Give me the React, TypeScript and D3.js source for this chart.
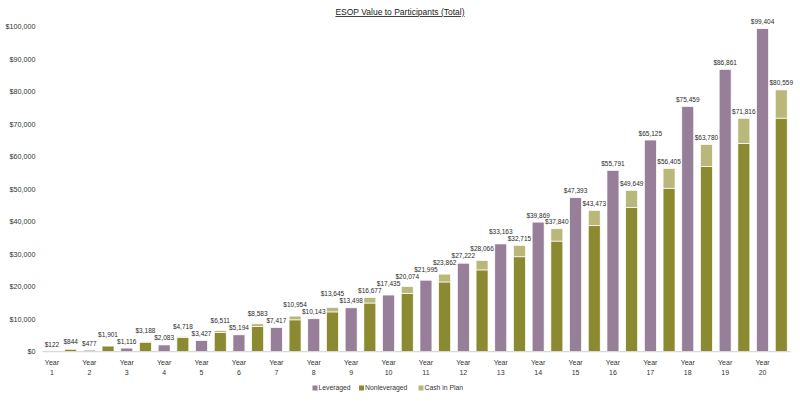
import React from 'react';
import * as d3 from 'd3';

const years = d3.range(1, 21).map(String);
const leveraged = [122, 477, 1116, 2083, 3427, 5194, 7417, 10143, 13498, 17435, 21995, 27222, 33163, 39869, 47393, 55791, 65125, 75459, 86861, 99404];
const nonleveraged = [794, 1771, 2938, 4318, 5911, 7783, 9804, 12245, 14977, 17974, 21462, 25166, 29215, 34040, 38773, 44399, 50305, 56980, 64116, 71859];
const cashInPlan = [50, 130, 250, 400, 600, 800, 1150, 1400, 1700, 2100, 2400, 2900, 3500, 3800, 4700, 5250, 6100, 6800, 7700, 8700];
const yTicks = d3.range(0, 100001, 10000);

const W = 800;
const H = 401;
const FONT = '"Liberation Sans", Arial, sans-serif';
const PURPLE = '#977e99';
const OLIVE = '#8c8a31';
const LIGHT_OLIVE = '#b9b87a';
const LABEL_FS = 6.5;

const legendItems = [
  { label: 'Leveraged', color: PURPLE, cx: 315 },
  { label: 'Nonleveraged', color: OLIVE, cx: 361.5 },
  { label: 'Cash in Plan', color: LIGHT_OLIVE, cx: 421 },
];

const fmt = (v: number) => '$' + d3.format(',')(v);

interface Label { x: number; y: number; text: string; w: number; }

const App: React.FC = () => {
  // two slots per year: leveraged first, then nonleveraged + cash
  const slots = years.flatMap(y => [`${y}-L`, `${y}-N`]);
  const x = d3.scaleBand<string>()
    .domain(slots)
    .range([42.6, 790.6])
    .paddingInner(0.36)
    .paddingOuter(0.18);
  const y = d3.scaleLinear().domain([0, 100000]).range([351.7, 26.7]);
  const bw = x.bandwidth();

  // data labels, nudged up where neighbours collide
  const labels: Label[] = [];
  years.forEach((yr, i) => {
    const total = nonleveraged[i] + cashInPlan[i];
    [[`${yr}-L`, leveraged[i]], [`${yr}-N`, total]].forEach(([slot, v]) => {
      const text = fmt(v as number);
      labels.push({ x: x(slot as string)! + bw / 2, y: y(v as number) - 4.5, text, w: text.length * LABEL_FS * 0.5 });
    });
  });
  for (let i = 1; i < labels.length; i++) {
    const a = labels[i - 1];
    const b = labels[i];
    const overlapX = Math.abs(a.x - b.x) < (a.w + b.w) / 2;
    if (overlapX && Math.abs(a.y - b.y) < LABEL_FS) {
      if (a.y <= b.y) a.y = b.y - LABEL_FS - 0.5;
      else b.y = a.y - LABEL_FS - 0.5;
    }
  }

  return (
    <div style={{ position: 'absolute', left: 0, top: 0 }}>
      <svg width={W} height={H} style={{ display: 'block', background: '#fff' }} fontFamily={FONT}>
        <text x={400} y={15} textAnchor="middle" fontSize={8.5} fill="#222" textDecoration="underline">
          ESOP Value to Participants (Total)
        </text>

        {/* y axis labels */}
        {yTicks.map(t => (
          <text key={t} x={35.5} y={y(t)} dy="0.35em" textAnchor="end" fontSize={7.2} fill="#333">
            {fmt(t)}
          </text>
        ))}

        {/* bars */}
        {years.map((yr, i) => {
          const xl = x(`${yr}-L`)!;
          const xn = x(`${yr}-N`)!;
          const total = nonleveraged[i] + cashInPlan[i];
          return (
            <g key={yr}>
              <rect x={xl} y={y(leveraged[i])} width={bw} height={y(0) - y(leveraged[i])}
                fill={PURPLE} stroke="#fff" strokeWidth={0.7} />
              <rect x={xn} y={y(nonleveraged[i])} width={bw} height={y(0) - y(nonleveraged[i])}
                fill={OLIVE} stroke="#fff" strokeWidth={0.7} />
              <rect x={xn} y={y(total)} width={bw} height={y(nonleveraged[i]) - y(total)}
                fill={LIGHT_OLIVE} stroke="#fff" strokeWidth={0.7} />
              <text textAnchor="middle" fontSize={7} fill="#333">
                <tspan x={xl + bw / 2} y={365}>Year</tspan>
                <tspan x={xl + bw / 2} y={375.2}>{yr}</tspan>
              </text>
            </g>
          );
        })}

        {labels.map((l, i) => (
          <text key={i} x={l.x} y={l.y} textAnchor="middle" fontSize={LABEL_FS} fill="#2a2a2a">{l.text}</text>
        ))}

        {/* baseline */}
        <line x1={42.6} x2={790.6} y1={y(0)} y2={y(0)} stroke="#d9d9d9" strokeWidth={1.2} />

        {/* legend */}
        {legendItems.map(d => (
          <g key={d.label}>
            <rect x={d.cx - 2.5} y={385.5} width={5} height={5} fill={d.color} />
            <text x={d.cx + 3.5} y={388} dy="0.35em" fontSize={6.8} fill="#333">{d.label}</text>
          </g>
        ))}
      </svg>
    </div>
  );
};

export default App;
